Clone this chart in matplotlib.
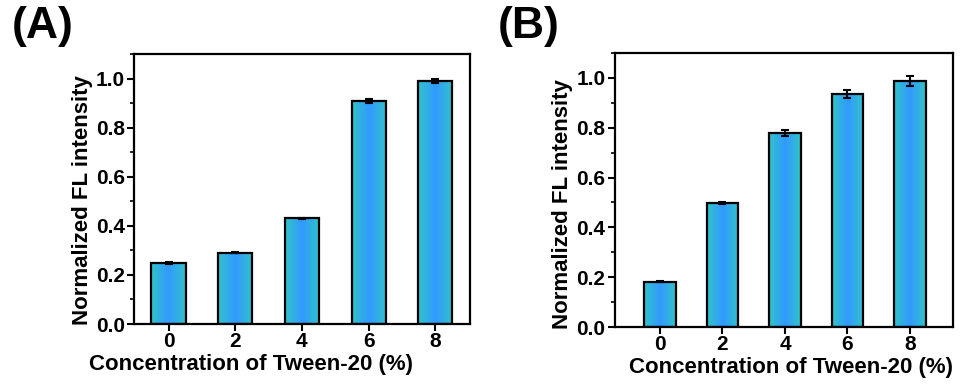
import matplotlib
matplotlib.use("Agg")
import matplotlib.pyplot as plt
from matplotlib import colors
from matplotlib.ticker import MultipleLocator
import numpy as np

plt.rcParams['font.family'] = ['Liberation Sans', 'DejaVu Sans']
plt.rcParams['font.weight'] = 'bold'

conc_labels = ['0', '2', '4', '6', '8']
vals_a = [0.25, 0.29, 0.43, 0.91, 0.99]
err_a = [0.004, 0.002, 0.003, 0.008, 0.007]
vals_b = [0.182, 0.496, 0.778, 0.936, 0.987]
err_b = [0.003, 0.004, 0.012, 0.017, 0.020]

edge_col = '#30c4c8'
mid_col = '#3399ff'
grad_cmap = colors.LinearSegmentedColormap.from_list('bar', [edge_col, mid_col, edge_col])


def draw_panel(ax, vals, errs, width, xlim, letter, letter_x, xlab_x, ylab_y):
    x = np.arange(len(vals))
    bars = ax.bar(x, vals, width=width, facecolor='none', edgecolor='black',
                  linewidth=1.6, zorder=3)
    grad = np.linspace(0, 1, 256).reshape(1, -1)
    for b in bars:
        im = ax.imshow(grad, cmap=grad_cmap, aspect='auto', zorder=2,
                       extent=[b.get_x(), b.get_x() + b.get_width(), 0, b.get_height()])
        im.set_clip_path(b)
    ax.errorbar(x, vals, yerr=errs, fmt='none', ecolor='black', elinewidth=1.5,
                capsize=3, capthick=1.5, zorder=4)
    ax.set_xlim(*xlim)
    ax.set_ylim(0, 1.1)
    ax.set_xticks(x)
    ax.set_xticklabels(conc_labels)
    ax.yaxis.set_major_locator(MultipleLocator(0.2))
    ax.yaxis.set_minor_locator(MultipleLocator(0.1))
    ax.yaxis.set_major_formatter(plt.FormatStrFormatter('%.1f'))
    ax.tick_params(axis='both', which='major', direction='out', length=5, width=1.5,
                   labelsize=15, pad=2)
    ax.tick_params(axis='x', which='major', pad=1)
    ax.tick_params(axis='y', which='minor', direction='out', length=3, width=1.2)
    ax.tick_params(axis='x', which='minor', bottom=False)
    for s in ax.spines.values():
        s.set_linewidth(1.6)
    ax.set_xlabel('Concentration of Tween-20 (%)', fontsize=16, fontweight='bold', labelpad=0)
    ax.xaxis.set_label_coords(xlab_x, -0.11, transform=ax.transAxes)
    ax.xaxis.label.set_va('top')
    ax.set_ylabel('Normalized FL intensity', fontsize=16, fontweight='bold', labelpad=2)
    ax.yaxis.label.set_y(ylab_y)
    ax.figure.text(letter_x, 1 - 6 / 385, letter, fontsize=32, fontweight='bold',
                   va='top', ha='left')


fig = plt.figure(figsize=(9.62, 3.85), dpi=100)
ax_a = fig.add_axes([0.1398, 0.1584, 0.3488, 0.7013])
ax_b = fig.add_axes([0.6393, 0.1506, 0.3514, 0.7117])

draw_panel(ax_a, vals_a, err_a, 0.51, (-0.51, 4.52), '(A)', 0.0125, 0.347, 0.46)
draw_panel(ax_b, vals_b, err_b, 0.51, (-0.72, 4.69), '(B)', 0.517, 0.52, 0.45)

fig.savefig('out.png', dpi=100)
